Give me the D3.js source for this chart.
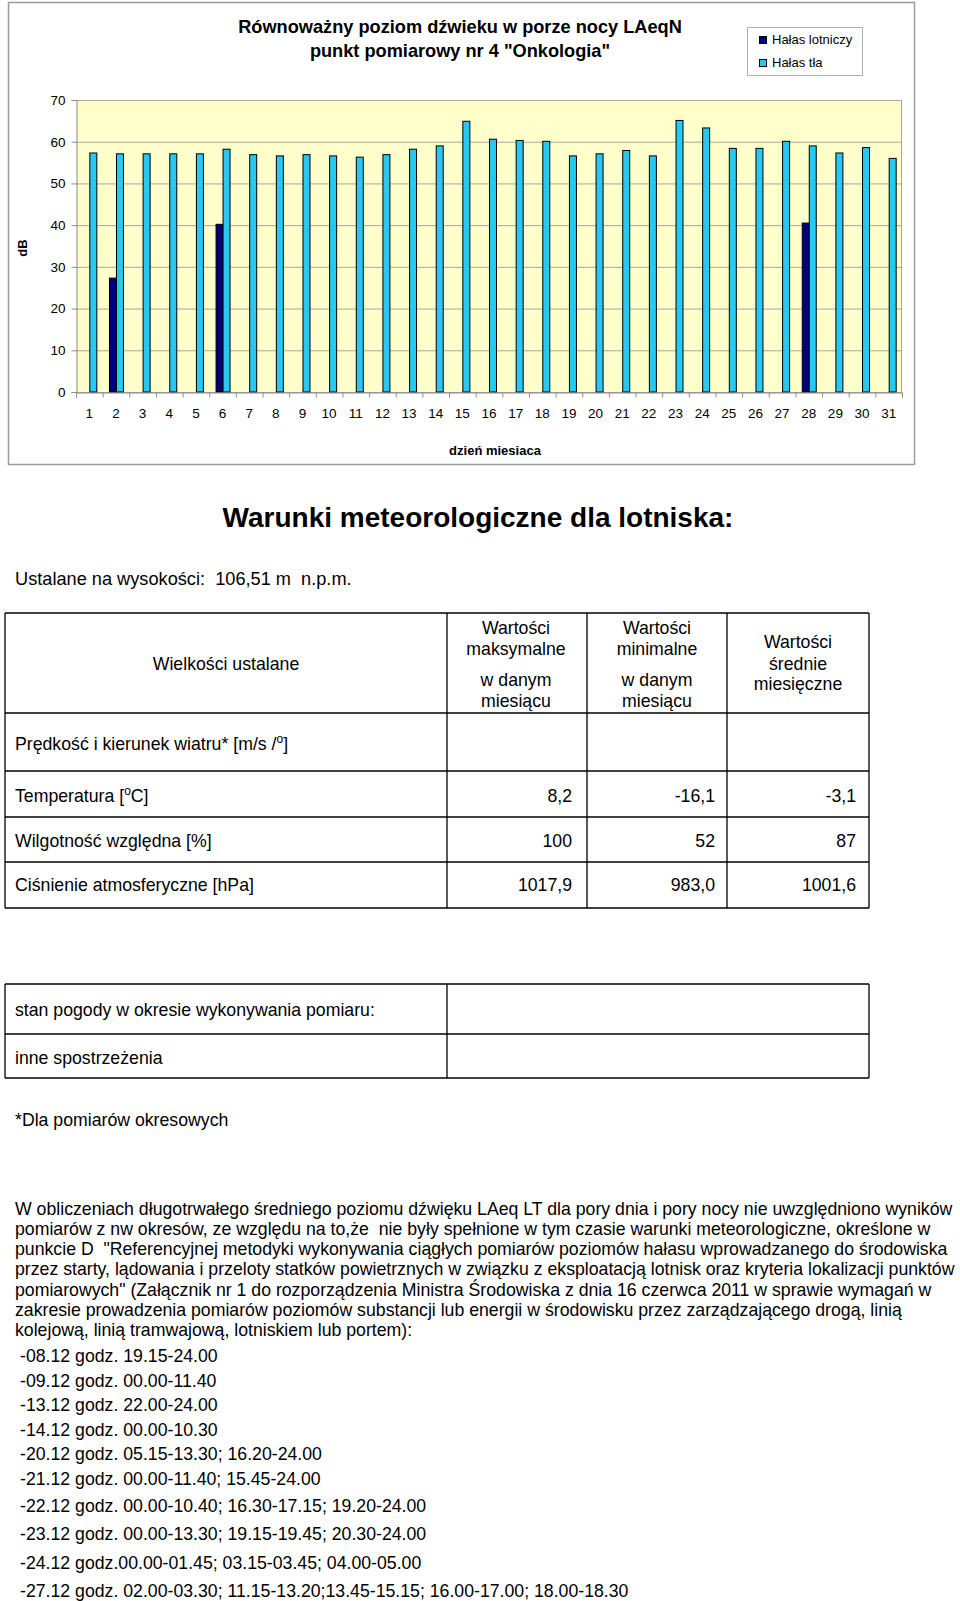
<!DOCTYPE html>
<html>
<head>
<meta charset="utf-8">
<script src="https://cdn.jsdelivr.net/npm/d3@7"></script>
<style>
html,body{margin:0;padding:0;background:#fff;}
svg text{font-family:"Liberation Sans",Arial,sans-serif;}
</style>
</head>
<body>
<svg id="page" width="960" height="1601"></svg>
<script>
// ---------- DATA ----------
const days = ["1","2","3","4","5","6","7","8","9","10","11","12","13","14","15","16","17","18","19","20","21","22","23","24","25","26","27","28","29","30","31"];
const aircraftNoise = [null,27.3,null,null,null,40.2,null,null,null,null,null,null,null,null,null,null,null,null,null,null,null,null,null,null,null,null,null,40.5,null,null,null];
const backgroundNoise = [57.3,57.1,57.1,57.1,57.1,58.2,56.9,56.6,56.9,56.6,56.3,56.9,58.2,59.0,64.9,60.6,60.3,60.1,56.6,57.1,57.9,56.6,65.1,63.3,58.4,58.4,60.1,59.0,57.3,58.6,56.0];
const yTicks = [0,10,20,30,40,50,60,70];
const seriesNames = ["Hałas lotniczy","Hałas tła"];
const chartTitle = ["Równoważny poziom dźwieku w porze nocy LAeqN","punkt pomiarowy nr 4 \"Onkologia\""];
const xTitle = "dzień miesiaca";
const yTitle = "dB";

const tableHeader = ["Wielkości ustalane"];
const tableRows = [
  {label:"Prędkość i kierunek wiatru* [m/s /", sup:"o", after:"]", max:"", min:"", avg:""},
  {label:"Temperatura [", sup:"o", after:"C]", max:"8,2", min:"-16,1", avg:"-3,1"},
  {label:"Wilgotność względna [%]", sup:"", after:"", max:"100", min:"52", avg:"87"},
  {label:"Ciśnienie atmosferyczne [hPa]", sup:"", after:"", max:"1017,9", min:"983,0", avg:"1001,6"}
];
const table2Rows = ["stan pogody w okresie wykonywania pomiaru:","inne spostrzeżenia"];
const paragraph = [
  "W obliczeniach długotrwałego średniego poziomu dźwięku LAeq LT dla pory dnia i pory nocy nie uwzględniono wyników",
  "pomiarów z nw okresów, ze względu na to,że  nie były spełnione w tym czasie warunki meteorologiczne, określone w",
  "punkcie D  \"Referencyjnej metodyki wykonywania ciągłych pomiarów poziomów hałasu wprowadzanego do środowiska",
  "przez starty, lądowania i przeloty statków powietrznych w związku z eksploatacją lotnisk oraz kryteria lokalizacji punktów",
  "pomiarowych\" (Załącznik nr 1 do rozporządzenia Ministra Środowiska z dnia 16 czerwca 2011 w sprawie wymagań w",
  "zakresie prowadzenia pomiarów poziomów substancji lub energii w środowisku przez zarządzającego drogą, linią",
  "kolejową, linią tramwajową, lotniskiem lub portem):"
];
const periods = [
  "-08.12 godz. 19.15-24.00",
  "-09.12 godz. 00.00-11.40",
  "-13.12 godz. 22.00-24.00",
  "-14.12 godz. 00.00-10.30",
  "-20.12 godz. 05.15-13.30; 16.20-24.00",
  "-21.12 godz. 00.00-11.40; 15.45-24.00",
  "-22.12 godz. 00.00-10.40; 16.30-17.15; 19.20-24.00",
  "-23.12 godz. 00.00-13.30; 19.15-19.45; 20.30-24.00",
  "-24.12 godz.00.00-01.45; 03.15-03.45; 04.00-05.00",
  "-27.12 godz. 02.00-03.30; 11.15-13.20;13.45-15.15; 16.00-17.00; 18.00-18.30"
];

// ---------- CHART ----------
const svg = d3.select("#page");
const colAir = "#000080", colBg = "#29C8F2";

svg.append("rect").attr("x",8.5).attr("y",2.5).attr("width",906).attr("height",462)
  .attr("fill","#fff").attr("stroke","#9a9a9a").attr("stroke-width",1.5);

const x = d3.scaleBand().domain(days).range([76,902]).paddingInner(0).paddingOuter(0);
const y = d3.scaleLinear().domain([0,70]).range([392,100]);
const xb = d3.scaleLinear().domain([0,days.length]).range([76,902]);

svg.append("rect").attr("x",76).attr("y",y(70)).attr("width",826).attr("height",y(0)-y(70))
  .attr("fill","#FFFFCC");

// gridlines
svg.append("g").selectAll("line").data(yTicks).join("line")
  .attr("x1",76).attr("x2",902).attr("y1",d=>y(d)+0.5).attr("y2",d=>y(d)+0.5)
  .attr("stroke","#a6a6a0").attr("stroke-width",1);
svg.append("line").attr("x1",901.5).attr("x2",901.5).attr("y1",y(70)).attr("y2",y(0)).attr("stroke","#a6a6a0");

// bars
const inner = d3.scaleBand().domain(["air","bg"]).range([-7,7]);
const groups = svg.append("g").selectAll("g").data(days).join("g")
  .attr("transform",d=>`translate(${x(d)+x.bandwidth()/2+0.5},0)`);
groups.each(function(d,i){
  const g = d3.select(this);
  if(aircraftNoise[i]!=null){
    g.append("rect").attr("x",inner("air")).attr("width",inner.bandwidth())
      .attr("y",y(aircraftNoise[i])).attr("height",y(0)-y(aircraftNoise[i]))
      .attr("fill",colAir).attr("stroke","#000").attr("stroke-width",1);
  }
  g.append("rect").attr("x",inner("bg")).attr("width",inner.bandwidth())
    .attr("y",y(backgroundNoise[i])).attr("height",y(0)-y(backgroundNoise[i]))
    .attr("fill",colBg).attr("stroke","#000").attr("stroke-width",1);
});

// y axis
const yAxis = svg.append("g").attr("transform","translate(76.5,0)")
  .call(d3.axisLeft(y).tickValues(yTicks).tickSize(5).tickPadding(6).tickFormat(d3.format("d")));
yAxis.select(".domain").attr("stroke","#8c8c8c");
yAxis.selectAll(".tick line").attr("stroke","#8c8c8c");
yAxis.selectAll("text").attr("font-size",13.5).attr("fill","#000").attr("font-family","Liberation Sans, Arial, sans-serif");

// x axis ticks at boundaries
const xTickAxis = svg.append("g").attr("transform",`translate(0,${y(0)+0.5})`)
  .call(d3.axisBottom(xb).tickValues(d3.range(0,days.length+1)).tickSize(5).tickFormat(""));
xTickAxis.select(".domain").attr("stroke","#8c8c8c");
xTickAxis.selectAll(".tick line").attr("stroke","#8c8c8c");
const xAxis = svg.append("g").attr("transform",`translate(0,${y(0)})`)
  .call(d3.axisBottom(x).tickSize(0).tickPadding(16));
xAxis.select(".domain").remove();
xAxis.selectAll("text").attr("font-size",13.5).attr("fill","#000").attr("font-family","Liberation Sans, Arial, sans-serif");

// axis titles
svg.append("text").attr("x",495).attr("y",455).attr("text-anchor","middle")
  .attr("font-size",13).attr("font-weight","bold").text(xTitle);
svg.append("text").attr("transform","translate(27,248) rotate(-90)").attr("text-anchor","middle")
  .attr("font-size",13).attr("font-weight","bold").text(yTitle);

// title
svg.append("g").selectAll("text").data(chartTitle).join("text")
  .attr("x",460).attr("y",(d,i)=>33+i*24).attr("text-anchor","middle")
  .attr("font-size",18.2).attr("font-weight","bold").text(d=>d);

// legend
svg.append("rect").attr("x",747.5).attr("y",27.5).attr("width",115).attr("height",48)
  .attr("fill","#fff").attr("stroke","#b0b0b0");
const leg = svg.append("g").selectAll("g").data(seriesNames).join("g")
  .attr("transform",(d,i)=>`translate(759,${36+i*23})`);
leg.append("rect").attr("width",7).attr("height",7).attr("x",0.5).attr("y",0.5)
  .attr("fill",(d,i)=>i===0?colAir:colBg).attr("stroke","#000");
leg.append("text").attr("x",13).attr("y",8).attr("font-size",13).text(d=>d);

// ---------- LOWER PAGE ----------
svg.append("text").attr("x",478).attr("y",527).attr("text-anchor","middle")
  .attr("font-size",28).attr("font-weight","bold").text("Warunki meteorologiczne dla lotniska:");
svg.append("text").attr("x",15).attr("y",585).attr("font-size",18.2)
  .attr("xml:space","preserve").text("Ustalane na wysokości:  106,51 m  n.p.m.");

// table 1
const tcols = [5,447,587,727,869];
const trows = [613,713,771,817,862,908];
const T = svg.append("g").attr("stroke","#000").attr("stroke-width",1.3);
trows.forEach(r=>T.append("line").attr("x1",tcols[0]).attr("x2",tcols[4]).attr("y1",r).attr("y2",r));
tcols.forEach(c=>T.append("line").attr("x1",c).attr("x2",c).attr("y1",trows[0]).attr("y2",trows[5]));

const fs = 17.7;
function txt(xp,yp,s,anchor){
  return svg.append("text").attr("x",xp).attr("y",yp).attr("font-size",fs)
    .attr("text-anchor",anchor||"start").text(s);
}
txt(226,669.5,tableHeader[0],"middle");
[["Wartości",633.5],["maksymalne",654.5],["w danym",685.5],["miesiącu",706.5]].forEach(a=>txt(516,a[1],a[0],"middle"));
[["Wartości",633.5],["minimalne",654.5],["w danym",685.5],["miesiącu",706.5]].forEach(a=>txt(657,a[1],a[0],"middle"));
[["Wartości",647.5],["średnie",669.5],["miesięczne",689.5]].forEach(a=>txt(798,a[1],a[0],"middle"));

const rowY = [749.5,801.5,846.5,890.5];
tableRows.forEach((r,i)=>{
  const t = txt(15,rowY[i],"");
  t.append("tspan").text(r.label);
  if(r.sup){ t.append("tspan").attr("dy",-7).attr("font-size",12).text(r.sup);
             t.append("tspan").attr("dy",7).text(r.after); }
  txt(572,rowY[i],r.max,"end");
  txt(715,rowY[i],r.min,"end");
  txt(856,rowY[i],r.avg,"end");
});

// table 2
const t2rows = [984,1034,1078];
const T2 = svg.append("g").attr("stroke","#000").attr("stroke-width",1.3);
t2rows.forEach(r=>T2.append("line").attr("x1",5).attr("x2",869).attr("y1",r).attr("y2",r));
[5,447,869].forEach(c=>T2.append("line").attr("x1",c).attr("x2",c).attr("y1",984).attr("y2",1078));
txt(15,1015.5,table2Rows[0]);
txt(15,1063.5,table2Rows[1]);

txt(15,1125.5,"*Dla pomiarów okresowych");

paragraph.forEach((p,i)=>{
  svg.append("text").attr("x",15).attr("y",1214.5+i*20.3).attr("font-size",fs)
    .attr("xml:space","preserve").text(p);
});
const perY = [1361.5,1386.5,1410.5,1435.5,1459.5,1484.5,1511.5,1539.5,1568.5,1596.5];
periods.forEach((p,i)=>{
  svg.append("text").attr("x",20).attr("y",perY[i]).attr("font-size",fs).text(p);
});
</script>
</body>
</html>
